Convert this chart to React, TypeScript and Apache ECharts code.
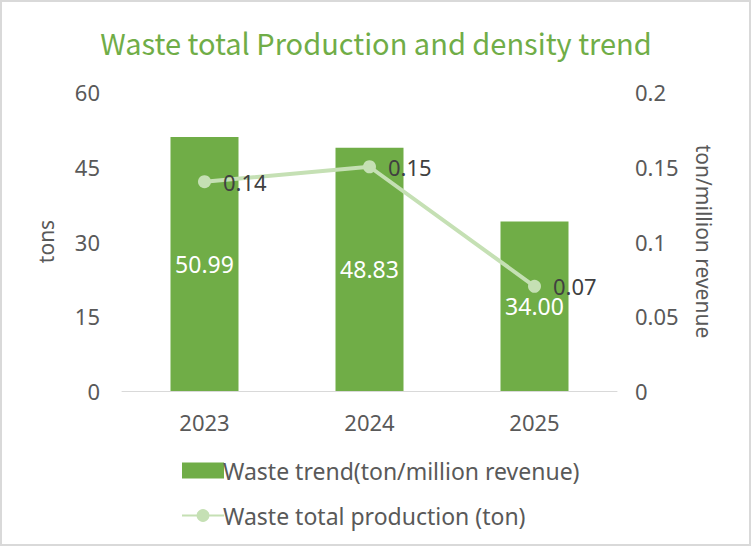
import React, { useEffect, useRef } from "react";
import * as echarts from "echarts";

const categories = ["2023", "2024", "2025"];
const barValues = [50.99, 48.83, 34.0];
const lineValues = [0.14, 0.15, 0.07];
const leftTicks = { min: 0, max: 60, interval: 15 };
const rightTicks = { min: 0, max: 0.2, interval: 0.05 };
const barName = "Waste trend(ton/million revenue)";
const lineName = "Waste total production (ton)";
const titleText = "Waste total Production and density trend";

const FONT = "'Noto Sans', sans-serif";
const TITLE_FONT = "'Noto Sans CJK TC', 'Noto Sans', sans-serif";

export default function App() {
  const ref = useRef<HTMLDivElement>(null);
  useEffect(() => {
    document.body.style.margin = "0";
    const chart = echarts.init(ref.current!, null, { renderer: "svg" });
    chart.setOption({
      animation: false,
      backgroundColor: "#ffffff",
      textStyle: { fontFamily: FONT },
      title: {
        text: titleText,
        left: "center",
        top: 22,
        textStyle: { color: "#70AD47", fontSize: 29, fontWeight: "normal", fontFamily: TITLE_FONT },
      },
      graphic: [
        {
          type: "rect",
          shape: { x: 1, y: 1, width: 749, height: 544 },
          style: { fill: "none", stroke: "#D9D9D9", lineWidth: 2 },
          silent: true,
        },
      ],
      legend: {
        orient: "vertical",
        left: 176,
        top: 454,
        itemGap: 22,
        itemWidth: 42,
        itemHeight: 16,
        textStyle: { color: "#595959", fontSize: 23, fontFamily: FONT, padding: [0, 0, 0, -6] },
        data: [
          { name: barName, icon: "rect" },
          { name: lineName },
        ],
      },
      grid: { left: 122, right: 135, top: 92, bottom: 156 },
      xAxis: {
        type: "category",
        data: categories,
        axisLine: { lineStyle: { color: "#D9D9D9", width: 1 } },
        axisTick: { show: false },
        axisLabel: { color: "#595959", fontSize: 22, margin: 20 },
      },
      yAxis: [
        {
          type: "value",
          ...leftTicks,
          name: "tons",
          nameLocation: "middle",
          nameGap: 66,
          nameTextStyle: { color: "#595959", fontSize: 21 },
          axisLine: { show: false },
          axisTick: { show: false },
          splitLine: { show: false },
          axisLabel: { color: "#595959", fontSize: 22, margin: 22 },
        },
        {
          type: "value",
          ...rightTicks,
          position: "right",
          name: "ton/million revenue",
          nameLocation: "middle",
          nameGap: 76,
          nameRotate: -90,
          nameTextStyle: { color: "#595959", fontSize: 21 },
          axisLine: { show: false },
          axisTick: { show: false },
          splitLine: { show: false },
          axisLabel: { color: "#595959", fontSize: 22, margin: 18 },
        },
      ],
      series: [
        {
          name: barName,
          type: "bar",
          data: barValues,
          barWidth: 68,
          itemStyle: { color: "#70AD47" },
          label: {
            show: true,
            position: "inside",
            color: "#ffffff",
            fontSize: 23,
            formatter: (p: any) => Number(p.value).toFixed(2),
          },
        },
        {
          name: lineName,
          type: "line",
          yAxisIndex: 1,
          data: lineValues,
          symbol: "circle",
          symbolSize: 13,
          lineStyle: { color: "#C5E0B4", width: 4 },
          itemStyle: { color: "#C5E0B4" },
          label: {
            show: true,
            position: "right",
            distance: 12,
            color: "#404040",
            fontSize: 22,
            formatter: (p: any) => Number(p.value).toFixed(2),
          },
        },
      ],
    });
    return () => chart.dispose();
  }, []);
  return <div ref={ref} style={{ width: 752, height: 547 }} />;
}
